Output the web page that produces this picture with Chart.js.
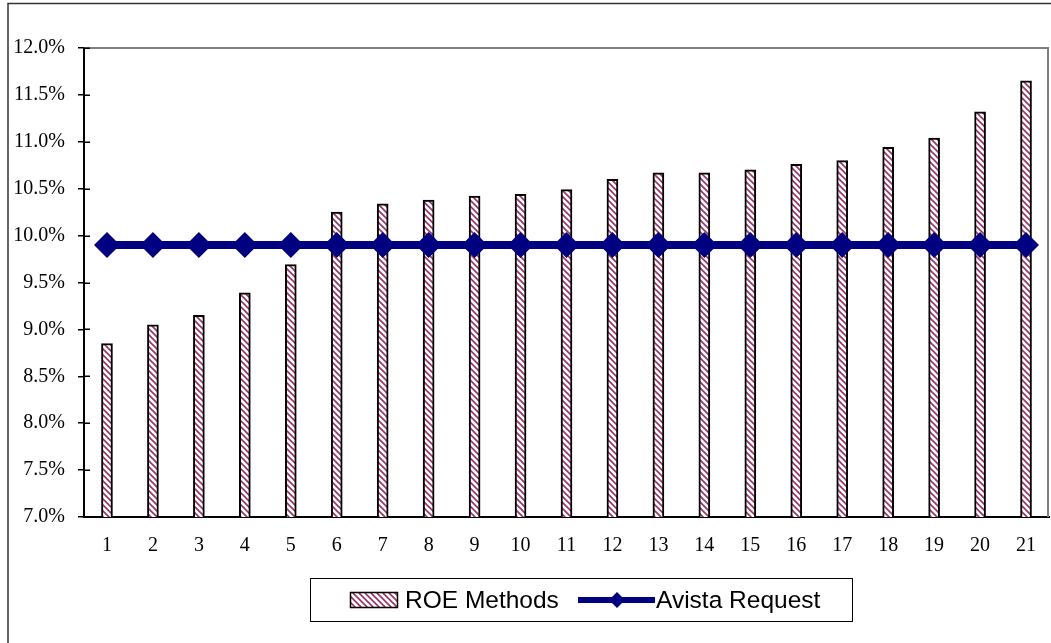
<!DOCTYPE html>
<html>
<head>
<meta charset="utf-8">
<script src="https://cdn.jsdelivr.net/npm/chart.js@4/dist/chart.umd.min.js"></script>
<style>
  html, body { margin: 0; padding: 0; background: #fff; }
  #wrap { width: 1051px; height: 643px; position: relative; }
</style>
</head>
<body>
<div id="wrap"><canvas id="c" width="1051" height="643"></canvas></div>
<script>
// Method numbers along the x axis
const methods = ['1','2','3','4','5','6','7','8','9','10','11','12','13','14','15','16','17','18','19','20','21'];
// ROE estimate from each method (%)
const roeMethods = [8.85, 9.05, 9.15, 9.39, 9.69, 10.25, 10.34, 10.38, 10.42, 10.44, 10.49,
                    10.60, 10.67, 10.67, 10.70, 10.76, 10.80, 10.94, 11.04, 11.32, 11.65];
// Requested ROE (%)
const avistaRequest = [9.9, 9.9, 9.9, 9.9, 9.9, 9.9, 9.9, 9.9, 9.9, 9.9, 9.9,
                       9.9, 9.9, 9.9, 9.9, 9.9, 9.9, 9.9, 9.9, 9.9, 9.9];
// Y axis tick values (%)
const yTicks = [7.0, 7.5, 8.0, 8.5, 9.0, 9.5, 10.0, 10.5, 11.0, 11.5, 12.0];

const seriesNames = ['ROE Methods', 'Avista Request'];

const canvas = document.getElementById('c');
const ctx = canvas.getContext('2d');

// Maroon diagonal hatch used for the bars
function makeHatch() {
  const size = 6;
  const t = document.createElement('canvas');
  t.width = size; t.height = size;
  const g = t.getContext('2d');
  g.fillStyle = '#ffffff';
  g.fillRect(0, 0, size, size);
  g.strokeStyle = '#993366';
  g.lineWidth = 1.6;
  g.beginPath();
  g.moveTo(-1, -1); g.lineTo(size + 1, size + 1);
  g.moveTo(-1, size - 1); g.lineTo(1, size + 1);
  g.moveTo(size - 1, -1); g.lineTo(size + 1, 1);
  g.stroke();
  return ctx.createPattern(t, 'repeat');
}
const hatch = makeHatch();

const NAVY = '#000080';

// Outer frame, plot frame, inner tick marks and the boxed legend
const framePlugin = {
  id: 'frame',
  beforeDraw(chart) {
    const c = chart.ctx;
    c.save();
    c.fillStyle = '#fff';
    c.fillRect(0, 0, chart.width, chart.height);
    c.strokeStyle = '#333';
    c.lineWidth = 1.5;
    c.beginPath();
    c.moveTo(8, chart.height);
    c.lineTo(8, 3.5);
    c.lineTo(chart.width, 3.5);
    c.stroke();
    c.restore();
  },
  beforeDatasetsDraw(chart) {
    const c = chart.ctx;
    const a = chart.chartArea;
    c.save();
    c.strokeStyle = '#808080';
    c.lineWidth = 2;
    c.beginPath();
    c.moveTo(a.left, a.top);
    c.lineTo(a.right - 1, a.top);
    c.lineTo(a.right - 1, a.bottom);
    c.stroke();
    // inward half of the cross ticks on the value axis
    const y = chart.scales.y;
    c.strokeStyle = '#000';
    c.lineWidth = 1.5;
    c.beginPath();
    yTicks.forEach(v => {
      const py = Math.round(y.getPixelForValue(v)) + 0.25;
      c.moveTo(a.left, py);
      c.lineTo(a.left + 6, py);
    });
    c.stroke();
    c.restore();
  },
  afterDraw(chart) {
    const c = chart.ctx;
    c.save();
    // legend box
    c.strokeStyle = '#000';
    c.lineWidth = 1;
    c.strokeRect(310.5, 578.5, 542, 43);
    const midY = 600;
    // bar swatch
    c.fillStyle = hatch;
    c.fillRect(350, 592, 48, 16);
    c.lineWidth = 1.5;
    c.strokeRect(350.5, 592.5, 47, 15);
    c.fillStyle = '#000';
    c.font = '24.5px "Liberation Sans", Arial, sans-serif';
    c.textBaseline = 'middle';
    c.textAlign = 'left';
    c.fillText(seriesNames[0], 405, midY + 1);
    // line swatch
    c.strokeStyle = NAVY;
    c.lineWidth = 6;
    c.beginPath();
    c.moveTo(578, midY);
    c.lineTo(655, midY);
    c.stroke();
    c.fillStyle = NAVY;
    c.beginPath();
    c.moveTo(617, midY - 8);
    c.lineTo(625, midY);
    c.lineTo(617, midY + 8);
    c.lineTo(609, midY);
    c.closePath();
    c.fill();
    c.fillStyle = '#000';
    c.fillText(seriesNames[1], 656, midY + 1);
    c.restore();
  }
};

function noMargins(s) {
  s.paddingLeft = 0; s.paddingRight = 0; s.paddingTop = 0; s.paddingBottom = 0;
}

new Chart(ctx, {
  data: {
    labels: methods,
    datasets: [
      {
        type: 'line',
        label: seriesNames[1],
        data: avistaRequest,
        borderColor: NAVY,
        backgroundColor: NAVY,
        borderWidth: 8,
        pointStyle: 'rectRot',
        pointRadius: 13,
        pointHoverRadius: 13,
        pointBorderWidth: 0,
        clip: false,
        order: 1
      },
      {
        type: 'bar',
        label: seriesNames[0],
        data: roeMethods,
        backgroundColor: hatch,
        borderColor: '#000',
        borderWidth: 2,
        borderSkipped: false,
        barThickness: 11,
        order: 2
      }
    ]
  },
  options: {
    responsive: false,
    animation: false,
    devicePixelRatio: 1,
    layout: { autoPadding: false, padding: { top: 48, right: 2, bottom: 0, left: 0 } },
    plugins: {
      legend: { display: false },
      tooltip: { enabled: false }
    },
    scales: {
      x: {
        type: 'category',
        offset: true,
        grid: { display: false, drawTicks: false },
        border: { color: '#000', width: 2 },
        ticks: {
          color: '#000',
          font: { family: '"Liberation Serif", "Times New Roman", serif', size: 20 },
          padding: 17,
          maxRotation: 0,
          autoSkip: false
        },
        afterFit(s) { s.height = 126; noMargins(s); }
      },
      y: {
        min: 7,
        max: 12,
        afterBuildTicks(s) { s.ticks = yTicks.map(v => ({ value: v })); },
        grid: { drawOnChartArea: false, drawTicks: true, tickLength: 6, color: '#000', lineWidth: 1.5 },
        border: { color: '#000', width: 2 },
        ticks: {
          color: '#000',
          font: { family: '"Liberation Serif", "Times New Roman", serif', size: 20 },
          padding: 13,
          callback: v => Number(v).toFixed(1) + '%'
        },
        afterFit(s) { s.width = 84; noMargins(s); }
      }
    }
  },
  plugins: [framePlugin]
});
</script>
</body>
</html>
